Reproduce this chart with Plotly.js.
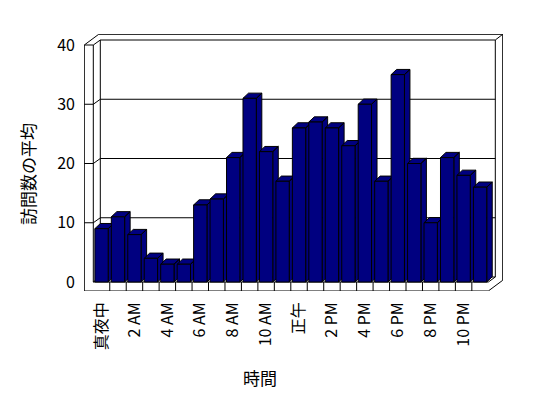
<!DOCTYPE html>
<html>
<head>
<meta charset="utf-8">
<script src="https://cdn.plot.ly/plotly-3.0.1.min.js"></script>
<style>html,body{margin:0;padding:0;background:#fff;}#chart{width:548px;height:398px;}</style>
</head>
<body>
<div id="chart"></div>
<script>
// ---- data ----
const hours = ['真夜中','1 AM','2 AM','3 AM','4 AM','5 AM','6 AM','7 AM','8 AM','9 AM','10 AM','11 AM',
               '正午','1 PM','2 PM','3 PM','4 PM','5 PM','6 PM','7 PM','8 PM','9 PM','10 PM','11 PM'];
const visits = [9, 11, 8, 4, 3, 3, 13, 14, 21, 31, 22, 17, 26, 27, 26, 23, 30, 17, 35, 20, 10, 21, 18, 16];
const yTicks = [0, 10, 20, 30, 40];
const xTitle = '時間';
const yTitle = '訪問数の平均';

// ---- geometry (pixels of the front plane) ----
const PL = 84, PR = 45, PT = 34, PB = 107, W = 548, H = 398;
const XF0 = 93.3, XF1 = 488.3, YF0 = 282, YF40 = 45;
const CW = (XF1 - XF0) / hours.length;
const PY = (YF0 - YF40) / 40;
const X = px => -0.5 + (px - XF0) / CW;
const Y = py => (YF0 - py) / PY;
const xRange = [X(PL), X(W - PR)];
const yRange = [Y(H - PB), Y(PT)];

const idx = hours.map((_, i) => i);
const barW = 0.81;
const bdx = 5.5 / CW, bdy = 5.2 / PY;   // bar depth
const DX = 7, DY = -5, TX = 7.4, TY = -5.7, LW = 9, FT = 9; // walls

const black = {color: '#000', width: 1};
const shapes = [];
function seg(x1, y1, x2, y2) {
  shapes.push({type: 'line', xref: 'x', yref: 'y', layer: 'below',
    x0: X(x1), y0: Y(y1), x1: X(x2), y1: Y(y2), line: black});
}
function poly(pts, fill) {
  const d = pts.map((p, i) => (i ? 'L' : 'M') + X(p[0]) + ',' + Y(p[1])).join(' ') + ' Z';
  shapes.push({type: 'path', xref: 'x', yref: 'y', layer: 'below', path: d,
    fillcolor: fill || 'rgba(0,0,0,0)', line: black});
}
// outer silhouette
const xL = XF0 - LW, yB = YF0 + FT;
const backIn = [XF0 + DX, XF1 + DX], yTopIn = YF40 + DY;
poly([[xL, yB], [xL, YF40], [xL + DX + TX, YF40 + DY + TY], [XF1 + DX + TX, YF40 + DY + TY],
      [XF1 + DX + TX, yB + DY + TY], [XF1, yB]], '#fff');
// left wall front edge
seg(XF0, YF40, XF0, YF0);
// back wall inner face
poly([[backIn[0], yTopIn], [backIn[1], yTopIn], [backIn[1], YF0 + DY], [backIn[0], YF0 + DY]]);
seg(backIn[1], yTopIn, backIn[1] + TX, yTopIn + TY);
// floor
seg(XF0, YF0, XF1, YF0);
seg(XF1, YF0, XF1 + DX, YF0 + DY);
for (let k = 1; k < hours.length; k++) seg(XF0 + k * CW, YF0, XF0 + k * CW, yB);
// gridlines on walls
yTicks.forEach(v => {
  const yf = YF0 - v * PY;
  if (v > 0) seg(xL, yf, XF0, yf);
  seg(XF0, yf, XF0 + DX, yf + DY);
  if (v > 0 && v < 40) seg(backIn[0], yf + DY, backIn[1], yf + DY);
});

// ---- traces ----
const traces = [];
visits.forEach((v, i) => {
  const xl = idx[i] - barW / 2, xr = idx[i] + barW / 2;
  traces.push({
    type: 'scatter', mode: 'lines', xaxis: 'x', yaxis: 'y',
    x: [xl, xr, xr + bdx, xl + bdx, xl, null, xr, xr, xr + bdx, xr + bdx, xr],
    y: [v, v, v + bdy, v + bdy, v, null, 0, v, v + bdy, bdy, 0],
    fill: 'toself', fillcolor: '#000080', line: black,
    hoverinfo: 'skip', showlegend: false
  });
});
traces.push({
  type: 'bar', x: idx, y: visits, xaxis: 'x2', yaxis: 'y2', width: barW,
  marker: {color: '#000080', line: black}, showlegend: false, hovertext: hours
});

const font = {family: '"Noto Sans CJK JP", "Noto Sans", sans-serif', size: 16, color: '#000'};
const titleFont = {family: '"Noto Sans CJK JP", "Noto Sans", sans-serif', size: 17, color: '#000'};
const layout = {
  width: W, height: H,
  margin: {l: PL, r: PR, t: PT, b: PB, pad: 0},
  paper_bgcolor: '#fff', plot_bgcolor: 'rgba(0,0,0,0)',
  showlegend: false, font: font,
  xaxis: {range: xRange, tickmode: 'array',
          tickvals: idx.filter(i => i % 2 === 0),
          ticktext: hours.filter((_, i) => i % 2 === 0),
          tickangle: -90, ticks: '', showgrid: false, zeroline: false, showline: false,
          ticklabelstandoff: 7, tickfont: font, fixedrange: true},
  yaxis: {range: yRange, tickmode: 'array', tickvals: yTicks, ticks: '',
          showgrid: false, zeroline: false, showline: false,
          ticklabelstandoff: 8, tickfont: font, fixedrange: true},
  xaxis2: {range: xRange, overlaying: 'x', visible: false, fixedrange: true},
  yaxis2: {range: yRange, overlaying: 'y', visible: false, fixedrange: true},
  shapes: shapes,
  annotations: [
    {text: xTitle, xref: 'paper', yref: 'paper', x: (260 - PL) / (W - PL - PR),
     y: ((H - PB) - 377) / (H - PT - PB), showarrow: false, font: titleFont,
     xanchor: 'center', yanchor: 'middle'},
    {text: yTitle, xref: 'paper', yref: 'paper', x: (27 - PL) / (W - PL - PR),
     y: ((H - PB) - 174) / (H - PT - PB), showarrow: false, font: titleFont, textangle: -90,
     xanchor: 'center', yanchor: 'middle'}
  ]
};
Plotly.newPlot('chart', traces, layout, {staticPlot: true, displayModeBar: false});
</script>
</body>
</html>
